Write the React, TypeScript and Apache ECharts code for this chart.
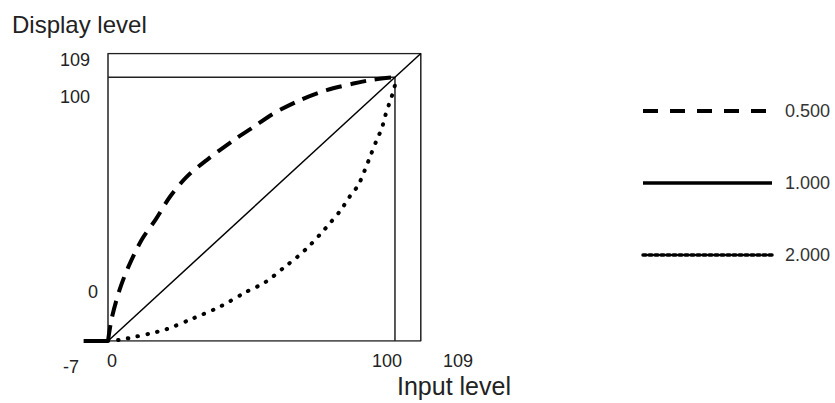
import React, { useEffect, useRef } from "react";
import * as echarts from "echarts";

// ---- data ----
const seriesNames = ["0.500", "1.000", "2.000"];
const gamma050: [number, number][] = [
  [0, 0], [1.3, 8.6], [4, 19.3], [7.1, 28.1], [11.7, 38.3], [16.7, 46.2],
  [21.6, 54.7], [27.4, 62.2], [34.4, 68.6], [43.7, 76.1], [50, 80.6],
  [57.6, 86.2], [66.9, 91.3], [76.2, 95.1], [85.5, 97.6], [92.4, 99.1], [100, 100],
];
const gamma100: [number, number][] = [[0, 0], [109, 109]];
const gamma200: [number, number][] = [
  [0, 0], [3.9, 0.4], [9.4, 1.6], [14.9, 2.9], [20.2, 4.4], [29.7, 8.6],
  [39, 13], [48.3, 18.7], [54.7, 22.2], [61.7, 28.2], [66, 31.9], [70.2, 36.1],
  [73.9, 40.4], [77.6, 45], [81.1, 49.6], [84.2, 54.7], [87.2, 59.1],
  [89.5, 64.8], [91.3, 69.8], [93.6, 76.1], [95.4, 80.6], [96.5, 85],
  [98, 90], [99.2, 93.8], [100, 97],
];
const frameBox: [number, number][] = [[0, 0], [109, 0], [109, 109], [0, 109], [0, 0]];
const limitBox: [number, number][] = [[0, 100], [100, 100], [100, 0]];
const blackSegment: [number, number][] = [[-8.5, 0], [0, 0]];
const yTickLabels = ["109", "100", "0"];
const xTickLabels = ["-7", "0", "100", "109"];
const yAxisTitle = "Display level";
const xAxisTitle = "Input level";

// ---- layout (pixels) ----
const yTickPos = [[75, 60], [75, 97], [93, 292]];
const xTickPos = [[71, 367], [112, 361], [387, 361], [458, 361]];

const FONT = "'Liberation Sans', Arial, sans-serif";
const TXT = "#222";

export default function App() {
  const ref = useRef<HTMLDivElement>(null);
  useEffect(() => {
    if (!ref.current) return;
    const chart = echarts.init(ref.current, undefined, { renderer: "svg" });
    const tickText = (labels: string[], pos: number[][]) =>
      labels.map((t, i) => ({
        type: "text",
        x: pos[i][0],
        y: pos[i][1],
        style: {
          text: t,
          fill: TXT,
          font: `18px ${FONT}`,
          textAlign: "center",
          textVerticalAlign: "middle",
        },
        silent: true,
      }));
    chart.setOption({
      animation: false,
      backgroundColor: "#fff",
      grid: { left: 79.3, top: 53.5, width: 341.5, height: 287.5, containLabel: false },
      xAxis: {
        type: "value", min: -10, max: 109,
        axisLine: { show: false }, axisTick: { show: false },
        axisLabel: { show: false }, splitLine: { show: false },
      },
      yAxis: {
        type: "value", min: 0, max: 109,
        axisLine: { show: false }, axisTick: { show: false },
        axisLabel: { show: false }, splitLine: { show: false },
      },
      legend: {
        orient: "vertical",
        left: 636,
        top: 97,
        itemWidth: 129,
        itemHeight: 14,
        itemGap: 54,
        selectedMode: false,
        itemStyle: { opacity: 0 },
        textStyle: { color: "#333", fontSize: 18, fontFamily: FONT, padding: [6, 0, 0, 8] },
        data: [
          { name: seriesNames[0], lineStyle: { width: 4, type: [15, 12] } },
          { name: seriesNames[1], lineStyle: { width: 3.5, type: "solid" } },
          { name: seriesNames[2], lineStyle: { width: 3.5, type: [3, 3] } },
        ],
      },
      series: [
        {
          name: "frame", type: "line", data: frameBox, symbol: "none", silent: true,
          lineStyle: { color: "#222", width: 1.5 },
        },
        {
          name: "limit", type: "line", data: limitBox, symbol: "none", silent: true,
          lineStyle: { color: "#222", width: 1.5 },
        },
        {
          name: "segment", type: "line", data: blackSegment, symbol: "none", silent: true,
          lineStyle: { color: "#000", width: 4 },
        },
        {
          name: seriesNames[0], type: "line", data: gamma050, symbol: "none", smooth: 0.3,
          lineStyle: { color: "#000", width: 4, type: [16, 9] }, itemStyle: { color: "#000" },
        },
        {
          name: seriesNames[1], type: "line", data: gamma100, symbol: "none",
          lineStyle: { color: "#000", width: 1.5 }, itemStyle: { color: "#000" },
        },
        {
          name: seriesNames[2], type: "line", data: gamma200, symbol: "none", smooth: 0.3,
          lineStyle: { color: "#000", width: 4, type: [0.5, 9.5], cap: "round" },
          itemStyle: { color: "#000" },
        },
      ],
      graphic: [
        {
          type: "text", x: 12, y: 12,
          style: { text: yAxisTitle, fill: TXT, font: `24px ${FONT}` }, silent: true,
        },
        {
          type: "text", x: 397, y: 373,
          style: { text: xAxisTitle, fill: TXT, font: `25px ${FONT}` }, silent: true,
        },
        ...tickText(yTickLabels, yTickPos),
        ...tickText(xTickLabels, xTickPos),
      ],
    });
    return () => chart.dispose();
  }, []);
  return <div ref={ref} style={{ width: 835, height: 403, position: "absolute", left: 0, top: 0 }} />;
}
